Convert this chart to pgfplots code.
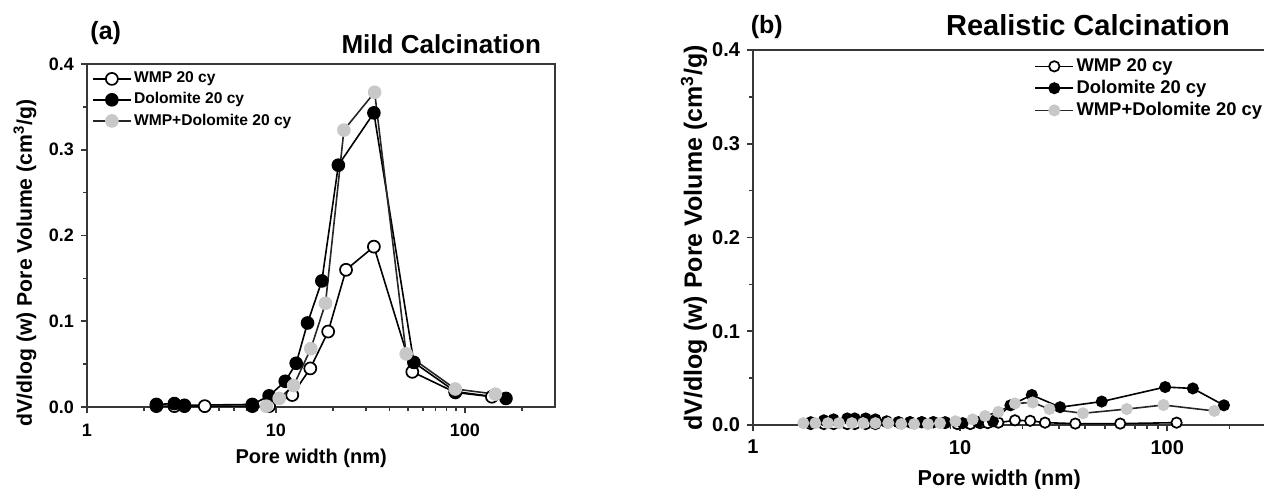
\documentclass[border=0pt]{standalone}
\usepackage{pgfplots}
\pgfplotsset{compat=1.18}
\usepackage{fontspec}
\setmainfont{Liberation Sans}

\definecolor{lgray}{RGB}{200,200,200}
\definecolor{spine}{RGB}{55,55,55}

\pgfkeys{/pgf/number format/assume math mode=true}

\pgfplotsset{
  psd/.style={
    scale only axis, xmin=1, xmax=300, ymin=0, ymax=0.4,
    clip=false,
    axis line style={spine, line width=1pt},
    tick align=outside, tick style={spine, line width=0.8pt},
    major tick length=3pt, minor tick length=1.8pt,
    xtick pos=left, ytick pos=left,
    xtick={1,10,100}, xticklabels={1,10,100},
    minor xtick={2,3,4,5,6,7,8,9,20,30,40,50,60,70,80,90,200},
    ytick={0,0.1,0.2,0.3,0.4}, minor ytick={0.05,0.15,0.25,0.35},
    yticklabel style={/pgf/number format/fixed, /pgf/number format/fixed zerofill, /pgf/number format/precision=1},
    legend cell align=left,
    legend image code/.code={\draw[mark repeat=2,mark phase=2] plot coordinates {(0pt,0pt)(9.5pt,0pt)(19pt,0pt)};},
  },
  wmp/.style={black, line width=0.8pt, mark=*, mark options={fill=white, draw=black, line width=0.85pt}},
  dol/.style={black, line width=0.8pt, mark=*, mark options={fill=black, draw=black}},
  mix/.style={black!85, line width=0.8pt, mark=*, mark options={fill=lgray, draw=lgray}},
}

\begin{document}
\begin{tikzpicture}
\useasboundingbox (0,0) rectangle (632pt,244pt);
\clip (0,0) rectangle (632pt,244pt);

% (a) mild calcination
\begin{semilogxaxis}[psd, at={(43.5pt,40.5pt)}, anchor=south west, width=234pt, height=171.5pt,
  tick label style={font=\bfseries\fontsize{9}{10}\selectfont},
  xticklabel style={yshift=-2pt},
  xlabel={Pore width (nm)},
  xlabel style={font=\bfseries\fontsize{10}{12}\selectfont, at={(axis description cs:0.479,0)}, anchor=center, yshift=-25.5pt},
  ylabel={dV/dlog (w) Pore Volume (cm\textsuperscript{3}/g)},
  ylabel style={font=\bfseries\fontsize{10.6}{13}\selectfont, at={(axis description cs:-0.1325,0.42)}, anchor=center},
  title={Mild Calcination},
  title style={font=\bfseries\fontsize{13}{15}\selectfont, at={(axis description cs:0.985,1)}, anchor=base east, yshift=-0.5pt},
  legend style={draw=none, fill=none, at={(axis description cs:0.01,0.985)}, anchor=north west,
    font=\bfseries\fontsize{7.8}{9}\selectfont, inner sep=0pt, row sep=1pt, nodes={inner sep=1.2pt}},
  every axis plot/.append style={mark size=3pt},
]
\addplot[wmp] coordinates {
  (2.33,0.001)(2.9,0.001)(3.28,0.001)(4.2,0.001)(7.5,0.001)(9.2,0.001)
  (12.2,0.014)(15.2,0.045)(18.9,0.088)(23.5,0.160)(33.0,0.187)
  (52.7,0.041)(89,0.017)(139,0.012)};
\addlegendentry{WMP 20 cy}
\addplot[dol] coordinates {
  (2.33,0.003)(2.9,0.004)(3.28,0.002)(7.5,0.003)(9.2,0.013)(11.2,0.030)
  (12.8,0.051)(14.7,0.098)(17.5,0.147)(21.4,0.282)(33.0,0.343)
  (53.7,0.052)(89,0.018)(165,0.010)};
\addlegendentry{Dolomite 20 cy}
\addplot[mix] coordinates {
  (8.9,0.001)(10.4,0.010)(12.4,0.025)(15.3,0.068)(18.3,0.121)(22.9,0.323)
  (33.3,0.367)(48.9,0.062)(89,0.021)(145,0.015)};
\addlegendentry{WMP+Dolomite 20 cy}
\node[font=\bfseries\fontsize{12.5}{14}\selectfont, yshift=15.5pt] at (axis description cs:0.04,1) {(a)};
\end{semilogxaxis}

% (b) realistic calcination
\begin{semilogxaxis}[psd, at={(376.5pt,31.5pt)}, anchor=south west, width=256.5pt, height=187.5pt,
  tick label style={font=\bfseries\fontsize{10}{11}\selectfont},
  xticklabel style={yshift=-1pt},
  xlabel={Pore width (nm)},
  xlabel style={font=\bfseries\fontsize{10.8}{12}\selectfont, at={(axis description cs:0.48,0)}, anchor=center, yshift=-27.5pt},
  ylabel={dV/dlog (w) Pore Volume (cm\textsuperscript{3}/g)},
  ylabel style={font=\bfseries\fontsize{12.5}{14}\selectfont, at={(axis description cs:-0.115,0.499)}, anchor=center},
  title={Realistic Calcination},
  title style={font=\bfseries\fontsize{14.5}{16}\selectfont, at={(axis description cs:0.653,1)}, anchor=base, yshift=1pt},
  legend style={draw=none, fill=none, at={(axis description cs:0.548,0.985)}, anchor=north west,
    font=\bfseries\fontsize{9.2}{10}\selectfont, inner sep=0pt, row sep=0.5pt, nodes={inner sep=1.2pt}},
  every axis plot/.append style={mark size=2.6pt},
]
\addplot[wmp] coordinates {
  (1.9,0.001)(2.2,0.001)(2.45,0.001)(2.85,0.001)(3.1,0.001)(3.5,0.001)(3.9,0.001)
  (4.42,0.003)(5.04,0.003)(5.73,0.003)(6.53,0.003)(7.43,0.003)(8.47,0.003)
  (9.7,0.001)(11.2,0.001)(12.5,0.002)(13.6,0.002)(15.3,0.0025)(18.4,0.005)
  (21.8,0.0045)(25.7,0.0025)(36,0.0015)(59.3,0.0015)(111,0.0025)};
\addlegendentry{WMP 20 cy}
\addplot[dol] coordinates {
  (1.9,0.003)(2.2,0.005)(2.45,0.006)(2.85,0.007)(3.1,0.007)(3.5,0.007)(3.9,0.006)
  (4.42,0.004)(5.04,0.003)(5.73,0.003)(6.53,0.003)(7.43,0.003)(8.47,0.002)
  (10.3,0.002)(12.2,0.003)(14.4,0.004)(17.5,0.021)(22.2,0.032)(30.4,0.019)
  (48.3,0.025)(97.8,0.0405)(133,0.039)(188,0.021)};
\addlegendentry{Dolomite 20 cy}
\addplot[mix] coordinates {
  (1.75,0.002)(2.0,0.002)(2.3,0.002)(2.6,0.002)(3.0,0.002)(3.4,0.002)(3.9,0.002)
  (4.5,0.002)(5.2,0.001)(6.0,0.001)(7.0,0.001)(8.0,0.002)(9.5,0.004)(11.5,0.006)
  (13.2,0.0096)(15.3,0.014)(18.4,0.023)(22.4,0.024)(27,0.017)(39.2,0.0125)
  (63.8,0.017)(96,0.0213)(169,0.015)};
\addlegendentry{WMP+Dolomite 20 cy}
\node[font=\bfseries\fontsize{12.5}{14}\selectfont, yshift=11.5pt] at (axis description cs:0.027,1) {(b)};
\end{semilogxaxis}
\end{tikzpicture}
\end{document}
